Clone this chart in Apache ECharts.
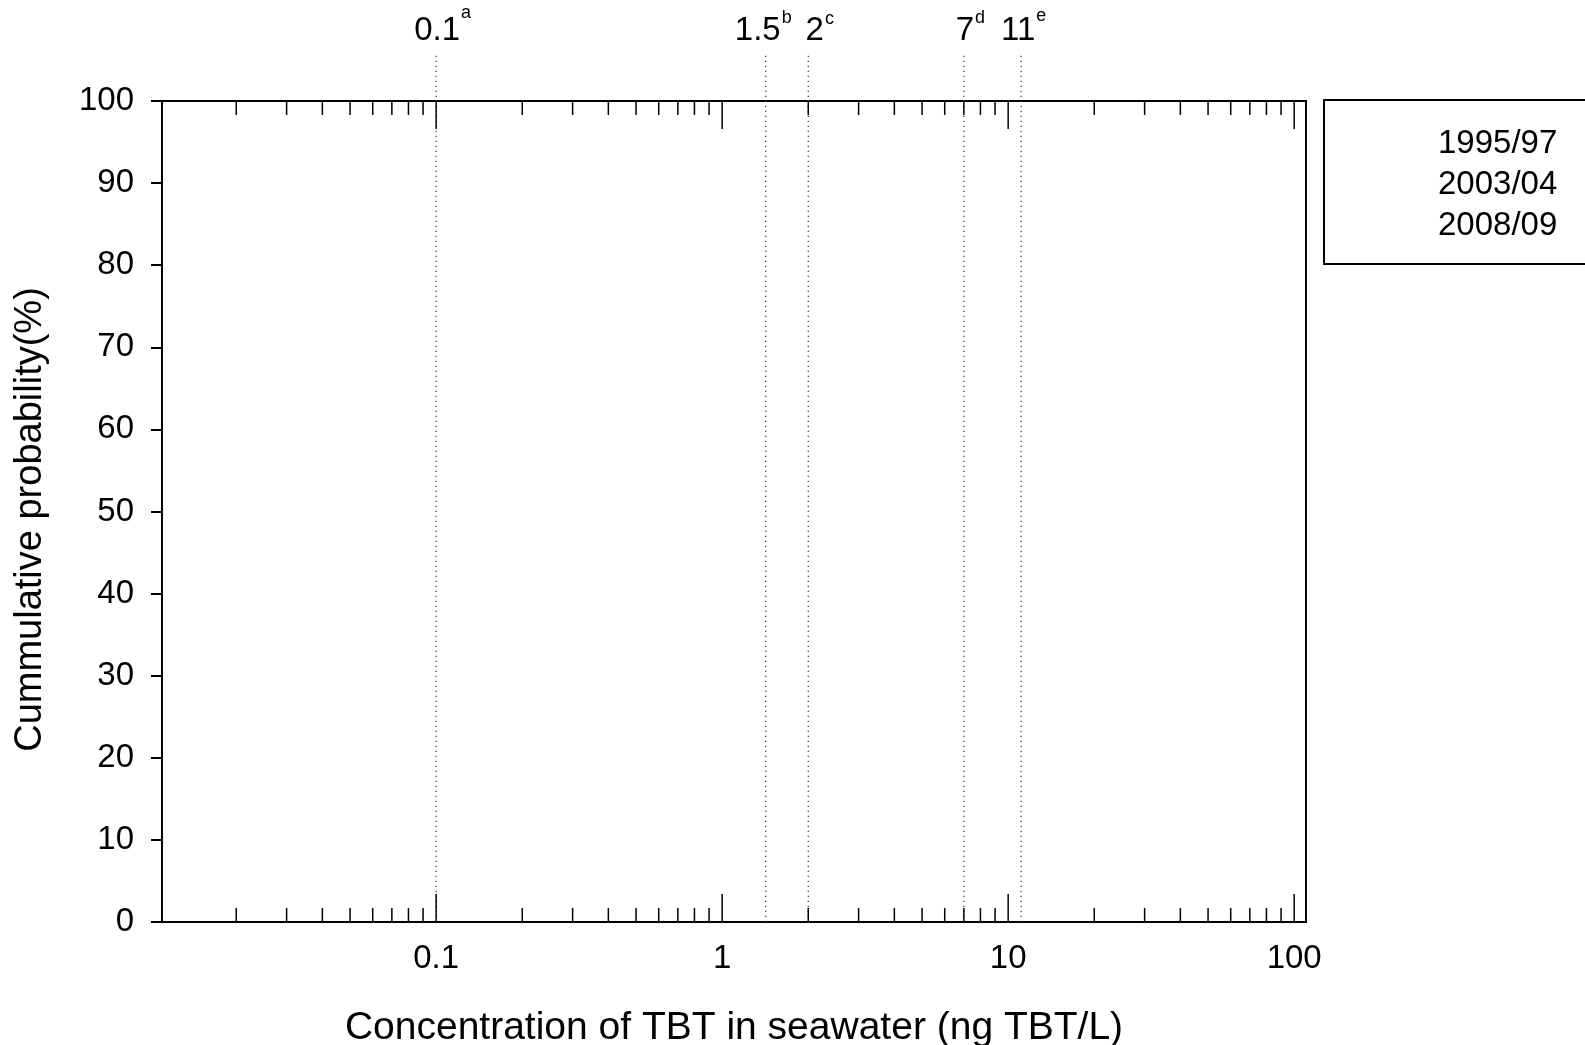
<!DOCTYPE html>
<html><head><meta charset="utf-8">
<script src="https://cdn.jsdelivr.net/npm/echarts@6/dist/echarts.min.js"></script>
<style>html,body{margin:0;padding:0;background:#fff}#c{width:1585px;height:1045px}</style>
</head><body><div id="c"></div>
<script>
// ---- data ----
const seriesNames = ['1995/97', '2003/04', '2008/09'];
const series1995 = [];
const series2003 = [];
const series2008 = [];
const xMajorTicks = [0.1, 1, 10, 100];
const xTickLabels = ['0.1', '1', '10', '100'];
const xMinorTicks = [0.02, 0.03, 0.04, 0.05, 0.06, 0.07, 0.08, 0.09,
                     0.2, 0.3, 0.4, 0.5, 0.6, 0.7, 0.8, 0.9,
                     2, 3, 4, 5, 6, 7, 8, 9,
                     20, 30, 40, 50, 60, 70, 80, 90];
const thresholdValues = [0.1, 1.42, 2, 7, 11.1];
const thresholdLabels = ['0.1', '1.5', '2', '7', '11'];
const thresholdSups = ['a', 'b', 'c', 'd', 'e'];

// ---- styling/layout of threshold labels ----
const FONT = '"Liberation Sans", Arial, sans-serif';
const mainDx = [1, -8, 6.5, 1, -3];
const supBase = [18.3, 24, 25, 24, 22];
const MAIN_SIZE = 33, SUP_SIZE = 18, SUP_GAP = 1;

const mctx = document.createElement('canvas').getContext('2d');
function measure(t, size) { mctx.font = size + 'px ' + FONT; return mctx.measureText(t).width; }

function tickRenderer(len, lw) {
  return function (params, api) {
    const cs = params.coordSys;
    const x = api.coord([api.value(0), 0])[0];
    const top = cs.y, bottom = cs.y + cs.height;
    const st = { stroke: '#000', lineWidth: lw };
    return { type: 'group', children: [
      { type: 'line', shape: { x1: x, y1: bottom, x2: x, y2: bottom - len }, style: st },
      { type: 'line', shape: { x1: x, y1: top, x2: x, y2: top + len }, style: st }
    ] };
  };
}

function thresholdRenderer(params, api) {
  const i = params.dataIndex;
  const p = api.coord([api.value(0), 0]);
  const x = p[0], yb = p[1];
  const cx = x + mainDx[i];
  const w = measure(thresholdLabels[i], MAIN_SIZE);
  return { type: 'group', children: [
    { type: 'line', shape: { x1: x, y1: yb, x2: x, y2: 54 },
      style: { stroke: '#333', lineWidth: 1.2, lineDash: [1.2, 3.8] } },
    { type: 'text', x: cx, y: 40.7 - 0.31 * MAIN_SIZE,
      style: { text: thresholdLabels[i], fill: '#000', font: MAIN_SIZE + 'px ' + FONT,
               align: 'center', verticalAlign: 'middle', textAlign: 'center', textVerticalAlign: 'middle' } },
    { type: 'text', x: cx + w / 2 + SUP_GAP, y: supBase[i] - 0.31 * SUP_SIZE,
      style: { text: thresholdSups[i], fill: '#000', font: SUP_SIZE + 'px ' + FONT,
               align: 'left', verticalAlign: 'middle', textAlign: 'left', textVerticalAlign: 'middle' } }
  ] };
}

const chart = echarts.init(document.getElementById('c'), null, { renderer: 'canvas' });
chart.setOption({
  animation: false,
  backgroundColor: '#fff',
  grid: { left: 162, right: 279, top: 101, bottom: 123, containLabel: false, outerBoundsMode: 'none',
          show: true, borderColor: '#000', borderWidth: 2, backgroundColor: 'transparent' },
  legend: {
    orient: 'vertical', left: 1324, top: 100,
    padding: [27, 60, 22, 109],
    itemGap: 8, itemWidth: 0, itemHeight: 30, icon: 'none',
    borderColor: '#000', borderWidth: 2, selectedMode: false,
    textStyle: { fontSize: 33, color: '#000', fontFamily: FONT },
    data: seriesNames
  },
  xAxis: {
    type: 'log', logBase: 10, min: 0.011, max: 110,
    name: 'Concentration of TBT in seawater (ng TBT/L)', nameLocation: 'middle', nameGap: 87,
    nameTextStyle: { fontSize: 39, color: '#000', fontFamily: FONT },
    axisLine: { lineStyle: { color: '#000', width: 2 } },
    axisTick: { show: false },
    splitLine: { show: false },
    axisLabel: { fontSize: 33, color: '#000', fontFamily: FONT, margin: 20,
      showMinLabel: true, showMaxLabel: true,
      formatter: v => { const k = xMajorTicks.findIndex(m => Math.abs(v - m) / m < 1e-6); return k >= 0 ? xTickLabels[k] : ''; } }
  },
  yAxis: {
    type: 'value', min: 0, max: 100, interval: 10,
    name: 'Cummulative probability(%)', nameLocation: 'middle', nameGap: 112,
    nameTextStyle: { fontSize: 38, color: '#000', fontFamily: FONT, padding: [0, 16, 0, 0] },
    axisLine: { show: true, lineStyle: { color: '#000', width: 2 } },
    axisTick: { show: true, inside: false, length: 11, lineStyle: { color: '#000', width: 2 } },
    splitLine: { show: false },
    axisLabel: { fontSize: 33, color: '#000', fontFamily: FONT, margin: 28 }
  },
  series: [
    { name: seriesNames[0], type: 'line', data: series1995 },
    { name: seriesNames[1], type: 'line', data: series2003 },
    { name: seriesNames[2], type: 'line', data: series2008 },
    { type: 'custom', silent: true, clip: false, renderItem: tickRenderer(28, 1.5),
      data: xMajorTicks.map(v => [v, 0]), encode: { x: 0, y: 1 }, z: 5 },
    { type: 'custom', silent: true, clip: false, renderItem: tickRenderer(14, 1.5),
      data: xMinorTicks.map(v => [v, 0]), encode: { x: 0, y: 1 }, z: 5 },
    { type: 'custom', silent: true, clip: false, renderItem: thresholdRenderer,
      data: thresholdValues.map(v => [v, 0]), encode: { x: 0, y: 1 }, z: 1 }
  ]
});
</script>
</body></html>
